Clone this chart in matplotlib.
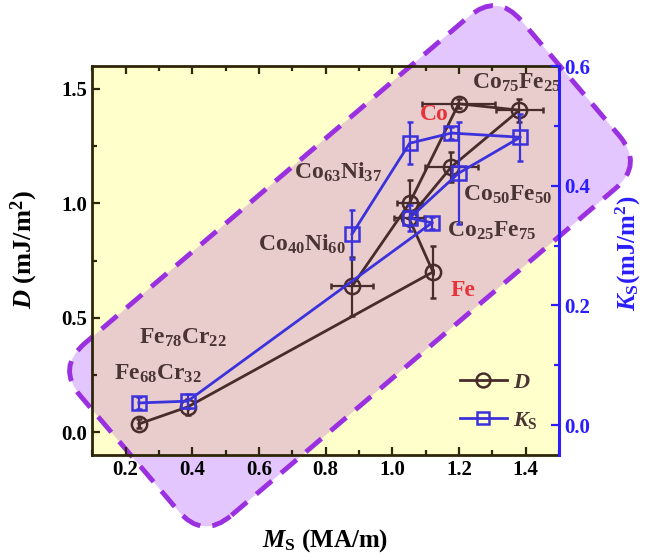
import numpy as np
import matplotlib
matplotlib.use("Agg")
from matplotlib import pyplot as plt
from matplotlib.patches import FancyBboxPatch
from matplotlib.lines import Line2D
from matplotlib.ticker import MultipleLocator
from matplotlib.transforms import Affine2D

# materials (same order in every array)
names = ["Fe$_{68}$Cr$_{32}$", "Fe$_{78}$Cr$_{22}$", "Co$_{40}$Ni$_{60}$",
         "Co$_{63}$Ni$_{37}$", "Co$_{25}$Fe$_{75}$", "Fe", "Co$_{50}$Fe$_{50}$",
         "Co", "Co$_{75}$Fe$_{25}$"]

# D data (left axis)
ms_d = [0.240, 0.386, 0.879, 1.052, 1.050, 1.122, 1.177, 1.199, 1.381]
d_val = [0.036, 0.110, 0.637, 1.002, 0.935, 0.700, 1.159, 1.435, 1.407]
d_xerr = [0.0, 0.0, 0.062, 0.037, 0.045, 0.0, 0.080, 0.110, 0.070]
d_yerr = [0.02, 0.033, 0.13, 0.10, 0.0, 0.113, 0.065, 0.02, 0.05]

# Ks data (right axis)
ms_k = [0.240, 0.386, 0.879, 1.052, 1.052, 1.119, 1.199, 1.177, 1.384]
k_val = [0.037, 0.040, 0.319, 0.471, 0.346, 0.338, 0.421, 0.488, 0.481]
k_yerr = [0.01, 0.012, 0.041, 0.035, 0.022, 0.01, 0.085, 0.01, 0.039]

# which points are joined by lines (alloy series)
d_links = [[0, 1, 5], [2, 3, 7], [5, 4, 6, 8, 7]]
k_links = [[0, 1, 5], [2, 3, 7], [5, 4, 6, 8, 7]]

# label anchor (x, D) for each material, and red ones
lab_x = [0.166, 0.240, 0.596, 0.705, 1.163, 1.175, 1.211, 1.083, 1.240]
lab_y = [0.228, 0.388, 0.794, 1.107, 0.855, 0.593, 1.013, 1.364, 1.499]
red_labels = ["Fe", "Co"]

c_d = "#482c2c"
c_k = "#3c32dc"
c_txt = "#4a3434"
c_red = "#e8333a"
c_spine = "#2d2608"
c_blue = "#2a1efa"

plt.rcParams["font.family"] = "Liberation Serif"
plt.rcParams["font.weight"] = "bold"
plt.rcParams["mathtext.fontset"] = "custom"
plt.rcParams["mathtext.rm"] = "Liberation Serif:bold"
plt.rcParams["mathtext.it"] = "Liberation Serif:italic:bold"
plt.rcParams["mathtext.bf"] = "Liberation Serif:bold"

fig = plt.figure(figsize=(6.5, 5.6), dpi=100)
ax = fig.add_axes([0.142, 0.1875, 0.718, 0.6946])
ax.set_facecolor("#ffffcc")

# rotated rounded box behind the data (inch units)
def box(**kw):
    L, W, r = 5.79, 2.26, 0.377
    tr = Affine2D().rotate_deg(40.4).translate(3.50, 2.94) + fig.dpi_scale_trans
    return FancyBboxPatch((-L / 2, -W / 2), L, W,
                          boxstyle="round,pad=0,rounding_size=%g" % r,
                          transform=tr, **kw)

fig.add_artist(box(facecolor="#e4c6ff", edgecolor="none", zorder=-1))
ax.add_patch(box(facecolor="#e9cdcd", edgecolor="none", zorder=0.5))
ax.add_patch(box(facecolor="none", edgecolor="#9b30e0", lw=3.5,
                 linestyle=(0, (4.2, 2.5)), clip_on=False, zorder=1.5))

ax2 = ax.twinx()

for link in d_links:
    ax.plot([ms_d[i] for i in link], [d_val[i] for i in link], color=c_d, lw=2, zorder=3)
ax.errorbar(ms_d, d_val, xerr=d_xerr, yerr=d_yerr, fmt="o", ms=11, mfc="none",
            mec=c_d, mew=1.8, ecolor=c_d, elinewidth=1.6, capsize=2.5, zorder=4)

for link in k_links:
    ax2.plot([ms_k[i] for i in link], [k_val[i] for i in link], color=c_k, lw=2, zorder=3)
ax2.errorbar(ms_k, k_val, yerr=k_yerr, fmt="s", ms=10, mfc="none",
             mec=c_k, mew=1.8, ecolor=c_k, elinewidth=1.6, capsize=2.5, zorder=4)

for n, x, y in zip(names, lab_x, lab_y):
    ax.text(x, y, n, fontsize=17, va="baseline", ha="left",
            color=c_red if n in red_labels else c_txt, zorder=5)

ax.set_xlim(0.1, 1.5)
ax.set_ylim(-0.1, 1.6)
ax2.set_ylim(-0.05, 0.6)
ax.xaxis.set_major_locator(MultipleLocator(0.2))
ax.xaxis.set_minor_locator(MultipleLocator(0.1))
ax.yaxis.set_major_locator(MultipleLocator(0.5))
ax.yaxis.set_minor_locator(MultipleLocator(0.25))
ax2.yaxis.set_major_locator(MultipleLocator(0.2))
ax2.yaxis.set_minor_locator(MultipleLocator(0.1))

ax.tick_params(which="both", direction="in", top=True, right=False,
               labelsize=15, width=1.6, color=c_spine, labelcolor="black")
ax.tick_params(which="major", length=6)
ax.tick_params(which="minor", length=3.5)
ax2.tick_params(which="both", direction="in", labelsize=15, width=1.6,
                color=c_blue, labelcolor=c_blue)
ax2.tick_params(which="major", length=6)
ax2.tick_params(which="minor", length=3.5)

for s in ["left", "top", "bottom"]:
    ax.spines[s].set_color(c_spine)
    ax.spines[s].set_linewidth(2)
    ax2.spines[s].set_visible(False)
ax.spines["right"].set_visible(False)
ax2.spines["right"].set_color(c_blue)
ax2.spines["right"].set_linewidth(2.2)

ax.set_xlabel(r"$\mathit{M}_\mathrm{S}$ (MA/m)", fontsize=18, fontweight="bold")
ax.set_ylabel(r"$\mathit{D}$ (mJ/m$^2$)", fontsize=19, fontweight="bold")
ax2.set_ylabel(r"$\mathit{K}_\mathrm{S}$(mJ/m$^2$)", fontsize=18, fontweight="bold",
               color=c_blue)
ax.xaxis.set_label_coords(0.499, -0.185)
ax.yaxis.set_label_coords(-0.112, 0.527)
ax2.yaxis.set_label_coords(1.118, 0.519)

handles = [Line2D([], [], color=c_d, lw=2, marker="o", ms=10, mfc="none", mew=1.8),
           Line2D([], [], color=c_k, lw=2, marker="s", ms=9, mfc="none", mew=1.8)]
ax2.legend(handles, [r"$\mathit{D}$", r"$\mathit{K}_\mathrm{S}$"], loc="center left",
           bbox_to_anchor=(0.745, 0.137), frameon=False, fontsize=16,
           handlelength=2.1, handletextpad=0.3, labelspacing=0.75, labelcolor=c_txt)

fig.savefig("out.png", dpi=100)
